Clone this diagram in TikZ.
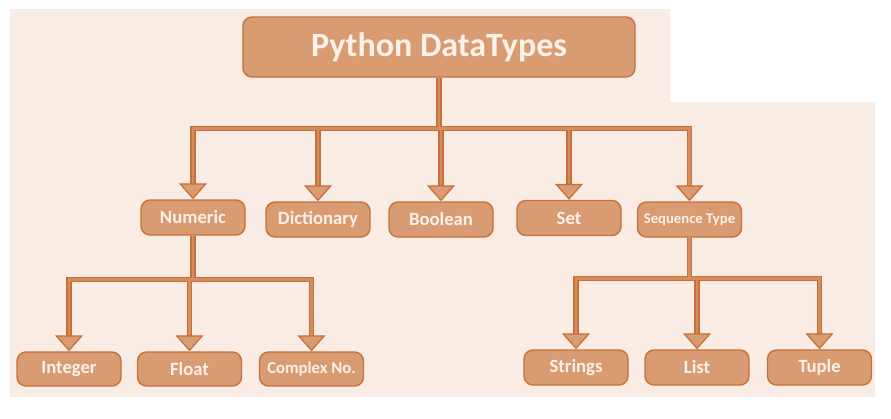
\documentclass[tikz,border=0pt]{standalone}
\usepackage{fontspec}
\setmainfont{Carlito}
\usetikzlibrary{arrows.meta,positioning}

\definecolor{bgpeach}{HTML}{F9ECE4}
\definecolor{boxfill}{HTML}{D99B71}
\definecolor{boxline}{HTML}{C8713A}
\definecolor{linedark}{HTML}{C76F38}
\definecolor{linelight}{HTML}{D68C5B}
\definecolor{textlight}{HTML}{FCF1E9}

\tikzset{
    typebox/.style={draw=boxline,fill=boxfill,line width=1.4pt,rounded corners=9pt,
        inner sep=0pt,minimum width=104pt,minimum height=35pt,text=textlight,font=\bfseries\fontsize{18.7}{20}\selectfont},
    linkedge/.style={draw=linedark,line width=5.5pt,shorten >=5pt},
    linkfill/.style={draw=linelight,line width=2.8pt,
        -{Triangle[width=28pt,length=16pt,line width=1.2pt,color=linedark,fill=boxfill]}}
}

\begin{document}
\begin{tikzpicture}[x=1pt,y=-1pt]
    \useasboundingbox (0,0) rectangle (891,418);
    \fill[bgpeach] (10,9) -- (670,9) -- (670,102) -- (875,102) -- (875,397) -- (10,397) -- cycle;

    \node[typebox,minimum width=392pt,minimum height=60pt,font=\bfseries\fontsize{34}{36}\selectfont] (py) at (439,47) {Python DataTypes};

    \node[typebox] (num) at (193,217.5) {Numeric};
    \node[typebox] (dict) at (318,219.5) {Dictionary};
    \node[typebox] (bool) at (441,219.5) {Boolean};
    \node[typebox] (set) at (569,218) {Set};
    \node[typebox,font=\bfseries\fontsize{14.7}{16}\selectfont] (seq) at (689.5,219.5) {Sequence Type};

    \node[typebox,minimum height=34pt] (int) at (69,369) {Integer};
    \node[typebox,minimum height=34pt] (flt) at (189.5,369) {Float};
    \node[typebox,minimum height=34pt,font=\bfseries\fontsize{16.7}{18}\selectfont] (cplx) at (311.5,369) {Complex No.};

    \node[typebox] (str) at (576,367.5) {Strings};
    \node[typebox] (lst) at (697,367.5) {List};
    \node[typebox] (tup) at (819.5,367.5) {Tuple};

    % outline first, then the lighter core with the heads
    \foreach \from/\to/\h in {py/num/51,py/dict/51,py/bool/51,py/set/51,py/seq/51,num/int/44,num/flt/44,num/cplx/44,seq/str/41,seq/lst/41,seq/tup/41}
        \draw[linkedge] (\from.south) -- ++(0,\h) -| (\to.north);
    \foreach \from/\to/\h in {py/num/51,py/dict/51,py/bool/51,py/set/51,py/seq/51,num/int/44,num/flt/44,num/cplx/44,seq/str/41,seq/lst/41,seq/tup/41}
        \draw[linkfill] (\from.south) -- ++(0,\h) -| (\to.north);
\end{tikzpicture}
\end{document}
